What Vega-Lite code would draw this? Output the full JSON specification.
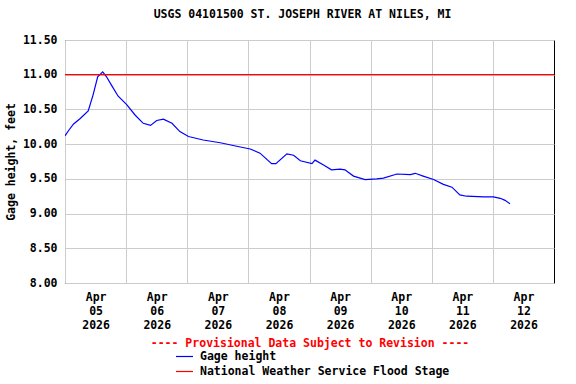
{
  "$schema": "https://vega.github.io/schema/vega-lite/v6.json",
  "width": 489,
  "height": 243,
  "autosize": "none",
  "padding": {"left": 65, "top": 40, "right": 22, "bottom": 101},
  "background": "white",
  "config": {
    "font": "DejaVu Sans Mono",
    "view": {"stroke": "black", "strokeWidth": 1},
    "axis": {
      "labelFont": "DejaVu Sans Mono",
      "labelFontSize": 11.5,
      "labelFontWeight": "bold",
      "labelColor": "black",
      "titleFont": "DejaVu Sans Mono",
      "titleFontSize": 11.5,
      "titleFontWeight": "bold",
      "titleColor": "black",
      "gridColor": "#cccccc",
      "gridOpacity": 1,
      "gridWidth": 1,
      "domain": false,
      "ticks": false,
      "labelOverlap": false,
      "labelFlush": false
    },
    "legend": {
      "labelFont": "DejaVu Sans Mono",
      "labelFontSize": 11.5,
      "labelFontWeight": "bold",
      "labelColor": "black",
      "labelLimit": 0
    }
  },
  "title": {
    "text": "USGS 04101500 ST. JOSEPH RIVER AT NILES, MI",
    "font": "DejaVu Sans Mono",
    "fontSize": 11.5,
    "fontWeight": "bold",
    "color": "black",
    "offset": 14,
    "dx": -7
  },
  "datasets": {
    "gage": [
      {"time": "2026-04-05T00:00", "height": 10.12, "series": "Gage height"},
      {"time": "2026-04-05T01:30", "height": 10.2, "series": "Gage height"},
      {"time": "2026-04-05T03:22", "height": 10.29, "series": "Gage height"},
      {"time": "2026-04-05T05:53", "height": 10.365, "series": "Gage height"},
      {"time": "2026-04-05T09:07", "height": 10.48, "series": "Gage height"},
      {"time": "2026-04-05T11:02", "height": 10.71, "series": "Gage height"},
      {"time": "2026-04-05T12:50", "height": 10.97, "series": "Gage height"},
      {"time": "2026-04-05T14:48", "height": 11.04, "series": "Gage height"},
      {"time": "2026-04-05T16:19", "height": 10.97, "series": "Gage height"},
      {"time": "2026-04-05T18:14", "height": 10.85, "series": "Gage height"},
      {"time": "2026-04-05T20:53", "height": 10.69, "series": "Gage height"},
      {"time": "2026-04-06T00:14", "height": 10.57, "series": "Gage height"},
      {"time": "2026-04-06T03:30", "height": 10.42, "series": "Gage height"},
      {"time": "2026-04-06T06:43", "height": 10.3, "series": "Gage height"},
      {"time": "2026-04-06T09:36", "height": 10.27, "series": "Gage height"},
      {"time": "2026-04-06T12:00", "height": 10.34, "series": "Gage height"},
      {"time": "2026-04-06T14:38", "height": 10.36, "series": "Gage height"},
      {"time": "2026-04-06T18:00", "height": 10.3, "series": "Gage height"},
      {"time": "2026-04-06T21:07", "height": 10.18, "series": "Gage height"},
      {"time": "2026-04-07T00:29", "height": 10.11, "series": "Gage height"},
      {"time": "2026-04-07T06:14", "height": 10.06, "series": "Gage height"},
      {"time": "2026-04-07T12:58", "height": 10.02, "series": "Gage height"},
      {"time": "2026-04-07T19:26", "height": 9.97, "series": "Gage height"},
      {"time": "2026-04-08T00:43", "height": 9.93, "series": "Gage height"},
      {"time": "2026-04-08T04:34", "height": 9.87, "series": "Gage height"},
      {"time": "2026-04-08T09:07", "height": 9.72, "series": "Gage height"},
      {"time": "2026-04-08T10:48", "height": 9.72, "series": "Gage height"},
      {"time": "2026-04-08T15:07", "height": 9.86, "series": "Gage height"},
      {"time": "2026-04-08T17:46", "height": 9.84, "series": "Gage height"},
      {"time": "2026-04-08T20:24", "height": 9.76, "series": "Gage height"},
      {"time": "2026-04-09T00:58", "height": 9.72, "series": "Gage height"},
      {"time": "2026-04-09T02:10", "height": 9.77, "series": "Gage height"},
      {"time": "2026-04-09T05:31", "height": 9.7, "series": "Gage height"},
      {"time": "2026-04-09T08:38", "height": 9.63, "series": "Gage height"},
      {"time": "2026-04-09T12:00", "height": 9.64, "series": "Gage height"},
      {"time": "2026-04-09T13:55", "height": 9.63, "series": "Gage height"},
      {"time": "2026-04-09T17:17", "height": 9.54, "series": "Gage height"},
      {"time": "2026-04-09T21:50", "height": 9.49, "series": "Gage height"},
      {"time": "2026-04-10T02:24", "height": 9.5, "series": "Gage height"},
      {"time": "2026-04-10T05:02", "height": 9.51, "series": "Gage height"},
      {"time": "2026-04-10T10:19", "height": 9.57, "series": "Gage height"},
      {"time": "2026-04-10T15:36", "height": 9.56, "series": "Gage height"},
      {"time": "2026-04-10T17:31", "height": 9.58, "series": "Gage height"},
      {"time": "2026-04-10T20:38", "height": 9.54, "series": "Gage height"},
      {"time": "2026-04-11T00:43", "height": 9.49, "series": "Gage height"},
      {"time": "2026-04-11T04:34", "height": 9.42, "series": "Gage height"},
      {"time": "2026-04-11T07:55", "height": 9.38, "series": "Gage height"},
      {"time": "2026-04-11T11:02", "height": 9.27, "series": "Gage height"},
      {"time": "2026-04-11T13:41", "height": 9.25, "series": "Gage height"},
      {"time": "2026-04-11T20:24", "height": 9.24, "series": "Gage height"},
      {"time": "2026-04-12T00:14", "height": 9.24, "series": "Gage height"},
      {"time": "2026-04-12T02:53", "height": 9.22, "series": "Gage height"},
      {"time": "2026-04-12T04:48", "height": 9.19, "series": "Gage height"},
      {"time": "2026-04-12T06:43", "height": 9.14, "series": "Gage height"}
    ],
    "flood": [
      {"height": 11.0, "series": "National Weather Service Flood Stage"}
    ]
  },
  "encoding": {
    "y": {
      "field": "height",
      "type": "quantitative",
      "scale": {"domain": [8, 11.5], "nice": false, "zero": false},
      "axis": {
        "values": [8, 8.5, 9, 9.5, 10, 10.5, 11, 11.5],
        "format": ".2f",
        "labelPadding": 8,
        "grid": true,
        "title": "Gage height, feet",
        "titlePadding": 6
      }
    },
    "color": {
      "field": "series",
      "type": "nominal",
      "scale": {
        "domain": ["Gage height", "National Weather Service Flood Stage"],
        "range": ["#0000FF", "#FF0000"]
      },
      "legend": {
        "title": null,
        "orient": "none",
        "legendX": 110,
        "legendY": 307,
        "symbolType": "stroke",
        "symbolSize": 289,
        "symbolStrokeWidth": 1.2,
        "labelOffset": 6,
        "rowPadding": 0
      }
    }
  },
  "layer": [
    {
      "data": {"name": "gage"},
      "mark": {"type": "line", "strokeWidth": 1.2, "clip": true},
      "encoding": {
        "x": {
          "field": "time",
          "type": "temporal",
          "scale": {
            "domain": [
              {"year": 2026, "month": 4, "date": 5},
              {"year": 2026, "month": 4, "date": 13}
            ]
          },
          "axis": {
            "values": [
              {"year": 2026, "month": 4, "date": 5},
              {"year": 2026, "month": 4, "date": 6},
              {"year": 2026, "month": 4, "date": 7},
              {"year": 2026, "month": 4, "date": 8},
              {"year": 2026, "month": 4, "date": 9},
              {"year": 2026, "month": 4, "date": 10},
              {"year": 2026, "month": 4, "date": 11},
              {"year": 2026, "month": 4, "date": 12}
            ],
            "labelExpr": "[timeFormat(datum.value, '%b'), timeFormat(datum.value, '%d'), timeFormat(datum.value, '%Y')]",
            "labelOffset": 30.6,
            "labelPadding": 8,
            "labelLineHeight": 14,
            "grid": true,
            "title": "---- Provisional Data Subject to Revision ----",
            "titleColor": "#FF0000",
            "titlePadding": 7
          }
        }
      }
    },
    {
      "data": {"name": "flood"},
      "mark": {"type": "rule", "strokeWidth": 1.2}
    }
  ]
}
